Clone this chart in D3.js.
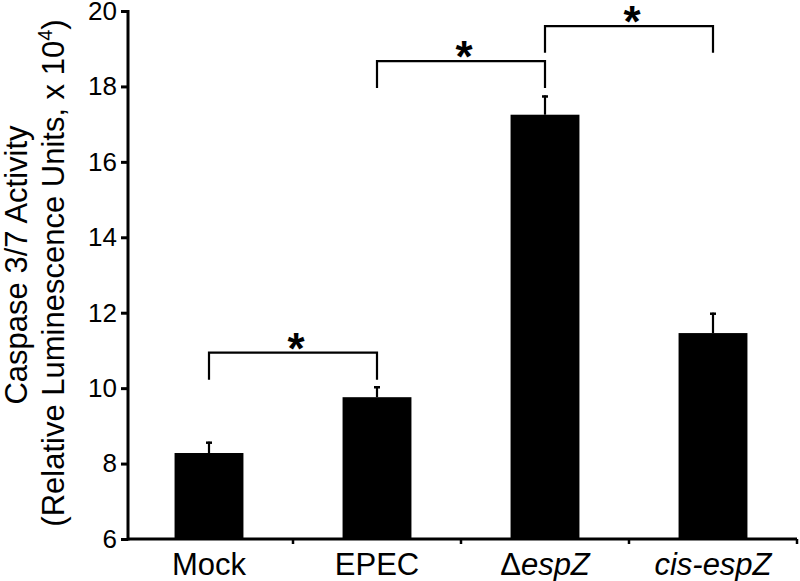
<!DOCTYPE html>
<html>
<head>
<meta charset="utf-8">
<script src="https://cdn.jsdelivr.net/npm/d3@7"></script>
<style>
  html, body { margin: 0; padding: 0; background: #fff; }
  svg { display: block; }
  text { font-family: "Liberation Sans", Arial, Helvetica, sans-serif; fill: #000; }
</style>
</head>
<body>
<svg id="chart" width="800" height="581"></svg>
<script>
// ---- data ----
const categories = ["Mock", "EPEC", "ΔespZ", "cis-espZ"];
const values = [8.28, 9.76, 17.25, 11.46];
const errors = [0.30, 0.29, 0.51, 0.54];
const yTicks = [6, 8, 10, 12, 14, 16, 18, 20];
const brackets = [
  { from: "Mock", to: "EPEC", level: 10.94, drop: 0.72, label: "*" },
  { from: "EPEC", to: "ΔespZ", level: 18.67, drop: 0.71, label: "*" },
  { from: "ΔespZ", to: "cis-espZ", level: 19.60, drop: 0.71, label: "*" }
];

// ---- layout ----
const svg = d3.select("#chart");
const axisX = 128, baseY = 539, topY = 11;

const x = d3.scaleBand().domain(categories).range([125, 797]).padding(0);
const y = d3.scaleLinear().domain([6, 20]).range([baseY, topY]);
const barW = x.bandwidth() * 0.41;

// bars
svg.append("g").selectAll("rect")
  .data(categories)
  .join("rect")
  .attr("x", (d) => x(d) + x.bandwidth() / 2 - barW / 2)
  .attr("y", (d, i) => y(values[i]))
  .attr("width", barW)
  .attr("height", (d, i) => y(6) - y(values[i]))
  .attr("fill", "#000");

// error bars (upper only)
const eg = svg.append("g").attr("stroke", "#000").attr("stroke-width", 2.2);
categories.forEach((c, i) => {
  const cx = x(c) + x.bandwidth() / 2;
  eg.append("line").attr("x1", cx).attr("x2", cx)
    .attr("y1", y(values[i])).attr("y2", y(values[i] + errors[i]));
  eg.append("line").attr("x1", cx - 3).attr("x2", cx + 3)
    .attr("y1", y(values[i] + errors[i]) + 1).attr("y2", y(values[i] + errors[i]) + 1)
    .attr("stroke-width", 2.5);
});

// y axis
const yAxis = d3.axisLeft(y).tickValues(yTicks).tickSize(7).tickPadding(4).tickFormat(d3.format("d"));
const gy = svg.append("g").attr("transform", `translate(${axisX},0)`).call(yAxis);
gy.select(".domain").remove();
gy.selectAll(".tick line").attr("stroke", "#000").attr("stroke-width", 3);
gy.selectAll(".tick text").attr("font-size", 26).attr("font-family", '"Liberation Sans", Arial, sans-serif').attr("fill", "#000");
svg.append("line").attr("x1", axisX).attr("x2", axisX).attr("y1", topY - 1).attr("y2", baseY + 1.5)
  .attr("stroke", "#000").attr("stroke-width", 3);

// x axis
svg.append("line").attr("x1", axisX).attr("x2", 797).attr("y1", baseY).attr("y2", baseY)
  .attr("stroke", "#000").attr("stroke-width", 3);
const xg = svg.append("g");
categories.forEach((c) => {
  const bx = x(c) + x.bandwidth();
  xg.append("line").attr("x1", bx).attr("x2", bx).attr("y1", baseY).attr("y2", baseY + 5)
    .attr("stroke", "#000").attr("stroke-width", 2.5);
});

// category labels
const labG = svg.append("g").attr("font-size", 31).attr("text-anchor", "middle");
categories.forEach((c) => {
  const t = labG.append("text").attr("x", x(c) + x.bandwidth() / 2).attr("y", 575);
  if (c === "ΔespZ") {
    t.append("tspan").text("Δ");
    t.append("tspan").attr("font-style", "italic").text("espZ");
  } else if (c === "cis-espZ") {
    t.append("tspan").attr("font-style", "italic").text("cis-espZ");
  } else {
    t.text(c);
  }
});

// y title
svg.append("text").attr("transform", "translate(27,265) rotate(-90)")
  .attr("text-anchor", "middle").attr("font-size", 31)
  .text("Caspase 3/7 Activity");
const t2 = svg.append("text").attr("transform", "translate(64,273) rotate(-90)")
  .attr("text-anchor", "middle").attr("font-size", 31);
t2.append("tspan").text("(Relative Luminescence Units, x 10");
t2.append("tspan").attr("font-size", 20).attr("dy", -12).text("4");
t2.append("tspan").attr("dy", 12).text(")");

// significance brackets
const bg = svg.append("g");
brackets.forEach((b) => {
  const x1 = x(b.from) + x.bandwidth() / 2;
  const x2 = x(b.to) + x.bandwidth() / 2;
  const yl = y(b.level), yd = y(b.level - b.drop);
  bg.append("path")
    .attr("d", `M${x1},${yd}V${yl}H${x2}V${yd}`)
    .attr("fill", "none").attr("stroke", "#000").attr("stroke-width", 2.2);
  bg.append("text").attr("x", (x1 + x2) / 2 + 3).attr("y", yl + 11)
    .attr("text-anchor", "middle").attr("font-size", 44).attr("font-weight", "bold")
    .text(b.label);
});
</script>
</body>
</html>
